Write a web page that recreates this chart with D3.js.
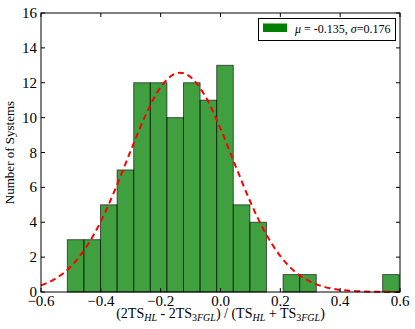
<!DOCTYPE html>
<html>
<head>
<meta charset="utf-8">
<script src="https://cdn.jsdelivr.net/npm/d3@7"></script>
<style>
  body { margin: 0; background: #fff; }
  svg text { font-family: "Liberation Serif", "DejaVu Serif", serif; fill: #000; }
</style>
</head>
<body>
<svg id="chart" width="415" height="329"></svg>
<script>
// histogram counts, 20 bins between the min and max sample
const counts = [3, 3, 5, 7, 12, 12, 10, 12, 11, 13, 5, 4, 0, 1, 1, 0, 0, 0, 0, 1];
const binLo = -0.512;
const binHi = 0.5975;

// fitted gaussian (red dashed)
const fitX = [-0.6, -0.55, -0.5, -0.45, -0.4, -0.35, -0.3, -0.25, -0.2, -0.15, -0.135, -0.1, -0.05,
  0.0, 0.05, 0.1, 0.15, 0.2, 0.25, 0.3, 0.35, 0.4, 0.45, 0.5, 0.55, 0.6];
const fitY = [0.38, 0.78, 1.46, 2.54, 4.05, 5.97, 8.11, 10.16, 11.75, 12.53, 12.58, 12.33, 11.2,
  9.37, 7.24, 5.16, 3.39, 2.06, 1.15, 0.59, 0.28, 0.12, 0.05, 0.02, 0.01, 0.0];

const xTicks = [-0.6, -0.4, -0.2, 0.0, 0.2, 0.4, 0.6];
const yTicks = [0, 2, 4, 6, 8, 10, 12, 14, 16];
const legendLabel = ["μ", " = -0.135, ", "σ", "=0.176"];

const margin = {left: 41, right: 15, top: 13, bottom: 37};
const width = 415, height = 329;

const svg = d3.select("#chart");

const x = d3.scaleLinear().domain([-0.6, 0.6]).range([margin.left, width - margin.right]);
const y = d3.scaleLinear().domain([0, 16]).range([height - margin.bottom, margin.top]);

const binW = (binHi - binLo) / counts.length;
const bins = counts.map((c, i) => ({x0: binLo + i * binW, x1: binLo + (i + 1) * binW, n: c}));

// bars
svg.append("g")
  .selectAll("rect")
  .data(bins.filter(d => d.n > 0))
  .join("rect")
  .attr("x", d => x(d.x0))
  .attr("y", d => y(d.n))
  .attr("width", d => x(d.x1) - x(d.x0))
  .attr("height", d => y(0) - y(d.n))
  .attr("fill", "green")
  .attr("fill-opacity", 0.75)
  .attr("stroke", "#000")
  .attr("stroke-opacity", 0.6)
  .attr("stroke-width", 1);

// fit curve
const line = d3.line()
  .x((d, i) => x(fitX[i]))
  .y(d => y(d))
  .curve(d3.curveMonotoneX);

svg.append("path")
  .datum(fitY)
  .attr("d", line)
  .attr("fill", "none")
  .attr("stroke", "red")
  .attr("stroke-width", 2)
  .attr("stroke-dasharray", "6,4");

// frame
const x0 = x.range()[0], x1 = x.range()[1], y0 = y.range()[0], y1 = y.range()[1];
svg.append("rect")
  .attr("x", x0).attr("y", y1)
  .attr("width", x1 - x0).attr("height", y0 - y1)
  .attr("fill", "none")
  .attr("stroke", "#000")
  .attr("stroke-width", 1);

// ticks, pointing inward on all four sides
const tickLen = 4;
const axes = svg.append("g").attr("stroke", "#000").attr("stroke-width", 1);
xTicks.forEach(t => {
  axes.append("line").attr("x1", x(t)).attr("x2", x(t)).attr("y1", y0).attr("y2", y0 - tickLen);
  axes.append("line").attr("x1", x(t)).attr("x2", x(t)).attr("y1", y1).attr("y2", y1 + tickLen);
});
yTicks.forEach(t => {
  axes.append("line").attr("x1", x0).attr("x2", x0 + tickLen).attr("y1", y(t)).attr("y2", y(t));
  axes.append("line").attr("x1", x1).attr("x2", x1 - tickLen).attr("y1", y(t)).attr("y2", y(t));
});

const fmt = d3.format(".1f");
svg.append("g")
  .selectAll("text")
  .data(xTicks)
  .join("text")
  .attr("x", d => x(d))
  .attr("y", y0 + 14)
  .attr("text-anchor", "middle")
  .attr("font-size", 15)
  .text(d => fmt(d).replace("-", "−"));

svg.append("g")
  .selectAll("text")
  .data(yTicks)
  .join("text")
  .attr("x", x0 - 4)
  .attr("y", d => y(d) + 5)
  .attr("text-anchor", "end")
  .attr("font-size", 15)
  .text(d => d);

// axis titles
svg.append("text")
  .attr("transform", `translate(14,${(y0 + y1) / 2}) rotate(-90)`)
  .attr("text-anchor", "middle")
  .attr("font-size", 13)
  .text("Number of Systems");

const xl = svg.append("text")
  .attr("x", (x0 + x1) / 2)
  .attr("y", 318)
  .attr("text-anchor", "middle")
  .attr("font-size", 14);

function sub(parent, txt) {
  // txt like "HL" or "3FGL": digits upright, letters italic
  const m = txt.match(/^(\d*)(.*)$/);
  if (m[1]) parent.append("tspan").attr("font-size", 10).attr("baseline-shift", -3).text(m[1]);
  parent.append("tspan").attr("font-size", 10).attr("font-style", "italic")
    .attr("baseline-shift", -3).text(m[2]);
}
xl.append("tspan").text("(2TS");
sub(xl, "HL");
xl.append("tspan").text(" - 2TS");
sub(xl, "3FGL");
xl.append("tspan").text(") / (TS");
sub(xl, "HL");
xl.append("tspan").text(" + TS");
sub(xl, "3FGL");
xl.append("tspan").text(")");

// legend
const lg = svg.append("g");
lg.append("rect")
  .attr("x", 258.5).attr("y", 18.5)
  .attr("width", 137).attr("height", 22)
  .attr("fill", "#fff")
  .attr("stroke", "#000")
  .attr("stroke-width", 1);
lg.append("rect")
  .attr("x", 263).attr("y", 23.5)
  .attr("width", 24).attr("height", 8.5)
  .attr("fill", "green");
const lt = lg.append("text")
  .attr("x", 295)
  .attr("y", 33)
  .attr("font-size", 12);
legendLabel.forEach((s, i) => {
  lt.append("tspan").attr("font-style", i % 2 === 0 ? "italic" : "normal").text(s);
});
</script>
</body>
</html>
